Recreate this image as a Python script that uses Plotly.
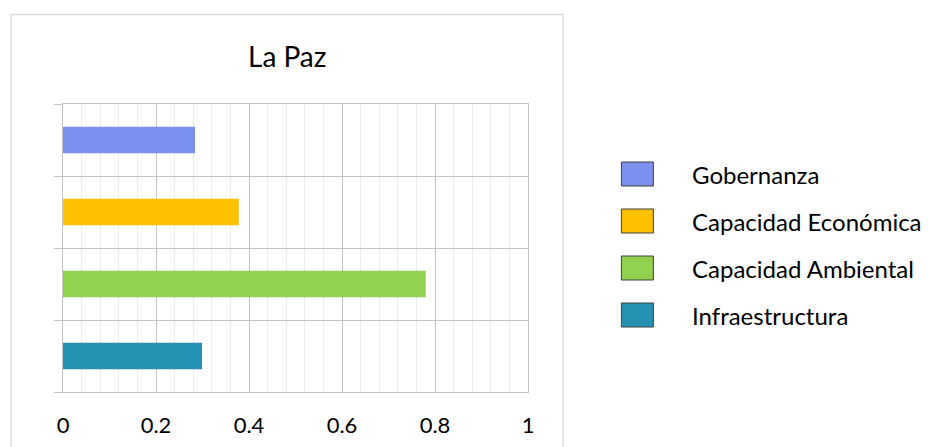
import plotly.graph_objects as go

categories = ["Infraestructura", "Capacidad Ambiental", "Capacidad Económica", "Gobernanza"]
values = [0.299, 0.780, 0.378, 0.284]
colors = ["#2391b1", "#92d050", "#ffc000", "#7b8fef"]
x_ticks = [0, 0.2, 0.4, 0.6, 0.8, 1]
x_tick_labels = ["0", "0.2", "0.4", "0.6", "0.8", "1"]
title_text = "La Paz"

W, H = 929, 447
L, R, T, B = 63, 528.5, 104, 392
FONT = "Lato"

def px_x(px):
    return (px - L) / (R - L)

def px_y(py):
    return (B - py) / (B - T)

fig = go.Figure()
for i, (cat, val, col) in enumerate(zip(categories, values, colors)):
    fig.add_trace(go.Bar(
        x=[val], y=[i], orientation="h", name=cat,
        marker=dict(color=col, line=dict(width=0)),
        width=0.37, showlegend=False, hoverinfo="x+name",
    ))

grid_major = "#c4c4c4"
grid_minor = "#ececec"

fig.update_layout(
    width=W, height=H,
    margin=dict(l=L, r=W - R, t=T, b=H - B, pad=0, autoexpand=False),
    paper_bgcolor="white", plot_bgcolor="white",
    barmode="overlay",
    font=dict(family=FONT, color="#000000"),
    xaxis=dict(
        range=[0, 1], tickvals=x_ticks, ticktext=x_tick_labels,
        showgrid=True, gridcolor=grid_major, gridwidth=1.4,
        minor=dict(dtick=0.04, showgrid=True, gridcolor=grid_minor, gridwidth=1),
        zeroline=False, showline=True, linecolor=grid_major, linewidth=1.4, mirror=True,
        ticks="", automargin=False,
        tickfont=dict(family=FONT, size=22, color="#000000"),
        ticklabelstandoff=13, fixedrange=True,
    ),
    yaxis=dict(
        range=[-0.5, 3.5], tickvals=[-0.5, 0.5, 1.5, 2.5, 3.5],
        showticklabels=False, showgrid=True, gridcolor=grid_major, gridwidth=1.4,
        zeroline=False, showline=True, linecolor=grid_major, linewidth=1.4, mirror=True,
        ticks="outside", ticklen=8, tickcolor=grid_major, tickwidth=1.4,
        automargin=False, fixedrange=True,
    ),
    showlegend=False,
)

shapes = []
annotations = []
# chart frame
shapes.append(dict(type="rect", xref="paper", yref="paper",
                   x0=px_x(11), x1=px_x(563.5), y0=px_y(470), y1=px_y(14.5),
                   line=dict(color="#d9d9d9", width=1.3), fillcolor="rgba(0,0,0,0)", layer="below"))
# title
annotations.append(dict(text=title_text, xref="paper", yref="paper",
                        x=px_x(287), y=px_y(56), xanchor="center", yanchor="middle",
                        showarrow=False, font=dict(family=FONT, size=28, color="#000000")))
# legend (top to bottom: reverse of category order)
leg_rows = [174, 221, 268, 315]
for row_y, cat, col in zip(leg_rows, categories[::-1], colors[::-1]):
    shapes.append(dict(type="rect", xref="paper", yref="paper",
                       x0=px_x(622), x1=px_x(654), y0=px_y(row_y + 12), y1=px_y(row_y - 12),
                       fillcolor=col, line=dict(color="#404040", width=1)))
    annotations.append(dict(text=cat, xref="paper", yref="paper",
                            x=px_x(691), y=px_y(row_y), xanchor="left", yanchor="middle",
                            showarrow=False, font=dict(family=FONT, size=24, color="#000000")))

fig.update_layout(shapes=shapes, annotations=annotations)
fig.write_html("out.html",
               config={"displayModeBar": False},
               post_script="document.body.style.margin='0';document.body.style.overflow='hidden';")
